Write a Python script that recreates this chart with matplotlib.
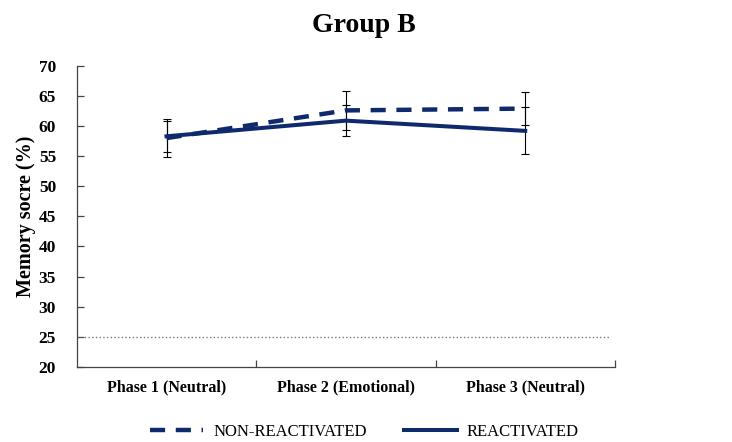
import matplotlib
matplotlib.use("Agg")
import matplotlib.pyplot as plt
import numpy as np

plt.rcParams['font.family'] = ['Liberation Serif', 'DejaVu Serif']

# Mean memory scores (%) and error bars per phase
phases = ['Phase 1 (Neutral)', 'Phase 2 (Emotional)', 'Phase 3 (Neutral)']
non_react = [58.0, 62.6, 62.9]
non_react_err = [3.1, 3.3, 2.7]
react = [58.3, 60.9, 59.2]
react_err = [2.6, 2.55, 3.9]
chance = 25

navy = '#0f2a6c'

fig = plt.figure(figsize=(7.32, 4.42), dpi=100)
ax = fig.add_axes([0.105, 0.170, 0.735, 0.681])

x = np.arange(len(phases))

ax.axhline(chance, xmin=0, xmax=0.99, color='#7a7a7a', lw=1.0, ls=':')

ax.errorbar(x, non_react, yerr=non_react_err, fmt='none', ecolor='black',
            elinewidth=0.8, capsize=3, capthick=0.8, zorder=2)
ax.errorbar(x, react, yerr=react_err, fmt='none', ecolor='black',
            elinewidth=0.8, capsize=3, capthick=0.8, zorder=2)

ax.plot(x, non_react, color=navy, lw=3.2, ls=(0, (3.4, 2.4)),
        label='NON-REACTIVATED', zorder=3)
ax.plot(x, react, color=navy, lw=2.9, ls='-', label='REACTIVATED', zorder=3)

ax.set_xlim(-0.5, 2.5)
ax.set_ylim(20, 70)
ax.set_yticks(np.arange(20, 71, 5))
ax.set_xticks(x)
ax.set_xticklabels(phases, fontsize=11.5, fontweight='bold')
ax.set_xticks([0.5, 1.5, 2.5], minor=True)
ax.tick_params(axis='x', which='major', length=0, pad=9)
ax.tick_params(axis='x', which='minor', direction='in', length=5,
               width=0.9, color='#444444')
ax.tick_params(axis='y', direction='in', length=5, width=0.9,
               color='#444444', pad=15, labelsize=12.5)
for lab in ax.get_yticklabels():
    lab.set_fontweight('bold')

for side in ['top', 'right']:
    ax.spines[side].set_visible(False)
for side in ['left', 'bottom']:
    ax.spines[side].set_color('#444444')
    ax.spines[side].set_linewidth(0.9)

ax.set_ylabel('Memory socre (%)', fontsize=14.5, fontweight='bold', labelpad=2)

fig.text(0.497, 0.943, 'Group B', ha='center', va='center',
         fontsize=20, fontweight='bold')

fig.legend(loc='center', bbox_to_anchor=(0.498, 0.023), ncol=2,
           frameon=False, fontsize=12, handlelength=3.2,
           handletextpad=0.6, columnspacing=2.2)

fig.savefig('out.png', dpi=100)
